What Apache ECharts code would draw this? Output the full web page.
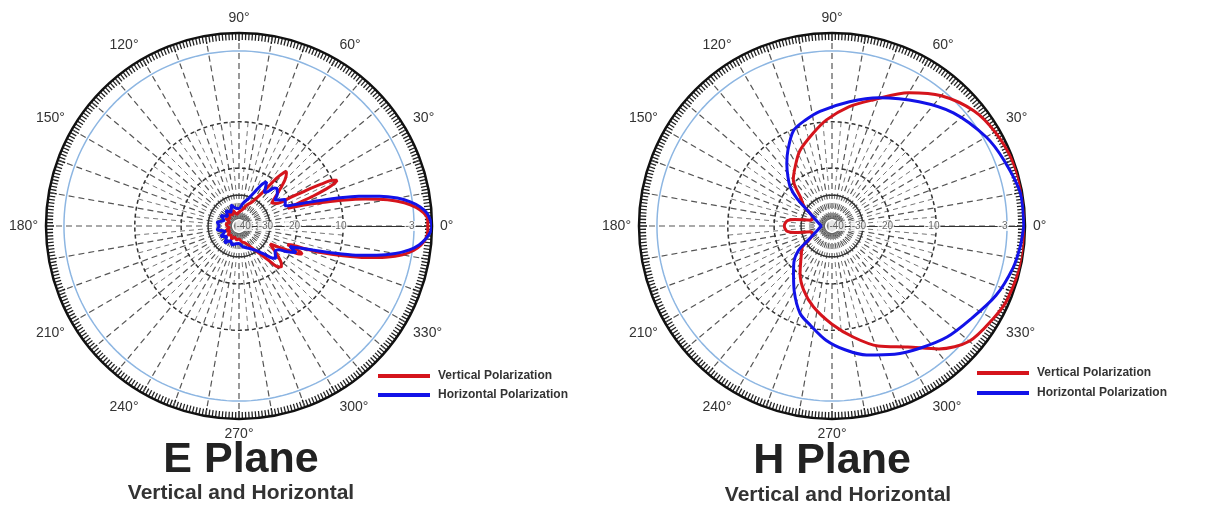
<!DOCTYPE html>
<html><head><meta charset="utf-8">
<script src="https://cdn.jsdelivr.net/npm/echarts@6/dist/echarts.min.js"></script>
<style>html,body{margin:0;padding:0;background:#fff}#c{width:1207px;height:506px}</style>
</head><body><div id="c"></div>
<script>
// ---- data (dB relative to peak, angle in degrees) ----
const radialLevels = [-40, -30, -20, -10, -3];
const radialLabels = ['-40', '-30', '-20', '-10', '-3'];
const seriesNames = ['Vertical Polarization', 'Horizontal Polarization'];
const chartTitles = ['E Plane', 'H Plane'];
const chartSubtitles = ['Vertical and Horizontal', 'Vertical and Horizontal'];

const eVertical = [[0,-0.7],[2,-0.7],[4,-1.3],[6,-2.5],[8,-3.8],[10,-5.4],[12,-7.5],[14,-9.8],[16,-14.4],[18,-17.8],[19,-20.0],[20,-22.2],[21,-19.1],[22,-15.2],[23,-12.0],[24,-10.0],[25,-9.6],[26,-10.0],[27,-12.6],[28,-16.3],[29,-20.0],[31,-25.2],[35,-26.6],[40,-22.9],[45,-18.5],[48,-17.2],[49,-17.0],[50,-17.4],[52,-19.5],[54,-24.8],[57,-28.6],[62,-31.8],[70,-34.0],[80,-36.7],[90,-37.6],[100,-38.5],[110,-36.7],[120,-38.1],[130,-36.3],[140,-38.5],[150,-37.2],[160,-39.4],[170,-38.1],[180,-38.5],[190,-39.4],[200,-37.6],[210,-39.0],[220,-37.6],[230,-38.5],[240,-37.2],[250,-38.5],[260,-37.6],[270,-38.1],[280,-36.7],[290,-35.8],[300,-32.7],[307,-28.6],[311,-24.4],[314,-20.3],[316,-19.8],[318,-20.3],[322,-22.9],[327,-26.6],[330,-28.1],[332,-24.8],[334,-20.0],[335,-18.2],[336,-17.6],[337,-18.0],[338,-19.5],[339,-22.2],[340,-21.1],[341,-17.4],[342,-13.9],[344,-9.6],[346,-7.4],[348,-5.5],[350,-3.9],[352,-2.8],[354,-1.7],[356,-1.0],[358,-0.7]];

const eHorizontal = [[0,0],[2,-0.3],[4,-0.8],[6,-1.8],[8,-3.2],[10,-4.4],[12,-6.1],[14,-8.1],[16,-10.7],[18,-15.0],[20,-18.5],[22,-21.1],[24,-22.9],[27,-22.2],[30,-21.8],[33,-23.7],[36,-25.1],[40,-22.9],[44,-21.8],[47,-22.2],[50,-24.8],[53,-25.9],[56,-23.7],[58,-22.2],[61,-23.7],[65,-27.4],[70,-30.4],[80,-33.5],[90,-36.0],[100,-35.8],[110,-34.0],[120,-36.7],[130,-34.9],[140,-37.2],[150,-34.5],[160,-36.7],[170,-34.0],[180,-34.9],[190,-34.0],[200,-37.2],[210,-34.5],[220,-36.7],[230,-34.0],[240,-36.3],[250,-34.9],[260,-35.8],[270,-36.0],[280,-34.5],[295,-32.7],[305,-30.4],[312,-27.4],[316,-24.4],[319,-23.3],[322,-24.4],[325,-25.1],[329,-24.4],[332,-21.1],[335,-18.9],[338,-21.1],[340,-18.6],[342,-15.7],[344,-11.3],[346,-8.4],[348,-6.4],[350,-4.6],[352,-3.3],[354,-2.0],[356,-1.0],[358,-0.3]];

const hVertical = [[0,0],[10,0],[20,-0.2],[30,-0.8],[39,-1.7],[50,-3.5],[60,-5.1],[72,-7.2],[82,-8.4],[93,-9.8],[102,-12.2],[113,-14.8],[121,-17.2],[130,-19.5],[138,-25.9],[145,-28.9],[151,-33.1],[158,-34.5],[165,-34.0],[170,-27.4],[173,-24.8],[177,-24.0],[180,-23.8],[183,-24.0],[187,-24.8],[190,-27.4],[195,-34.0],[202,-34.5],[209,-33.1],[215,-28.1],[223,-25.9],[236,-20.3],[246,-17.4],[257,-14.6],[270,-11.3],[281,-9.1],[291,-7.6],[302,-6.2],[311,-4.2],[320,-2.3],[330,-1.2],[337,-0.5],[350,0]];

const hHorizontal = [[0,-0.2],[10,-0.3],[21,-1.5],[30,-2.5],[43,-3.9],[55,-5.3],[70,-6.8],[82,-7.9],[96,-8.9],[104,-9.5],[112,-10.3],[120,-13.5],[126,-15.9],[132,-18.3],[137,-20.3],[142,-25.1],[147,-30.4],[160,-36.3],[170,-38.1],[180,-39.0],[190,-38.1],[200,-36.3],[212,-30.4],[216,-26.1],[223,-22.2],[231,-19.3],[240,-16.2],[250,-12.4],[258,-10.5],[267,-9.0],[276,-8.0],[285,-7.1],[296,-6.2],[306,-5.4],[316,-4.5],[326,-3.8],[337,-2.5],[347,-1.2],[354,-0.6]];

// ---- display scale of the radial (dB) axis: dB -> fraction of outer radius ----
const dbScale = [[0,1],[-3,0.907],[-10,0.54],[-20,0.30],[-30,0.16],[-40,0.045],[-50,0]];
function dbToR(db) {
  if (db >= dbScale[0][0]) return dbScale[0][1];
  for (let i = 1; i < dbScale.length; i++) {
    const [d1, r1] = dbScale[i - 1], [d2, r2] = dbScale[i];
    if (db >= d2) return r1 + (r2 - r1) * (db - d1) / (d2 - d1);
  }
  return 0;
}
function toPolar(arr) {
  const pts = arr.map(([a, db]) => [dbToR(db), a]);
  pts.push([dbToR(arr[0][1]), 360]);
  return pts;
}

const FONT = '"Liberation Sans", Arial, sans-serif';
const R = 193;
const centers = [[239, 226], [832, 226]];
const RED = '#d5141c', BLUE = '#1212e8';
const levelStyle = {
  '-3':  { color: '#8db6e2', width: 1.5, type: 'solid' },
  '-10': { color: '#333', width: 1.5, type: [4, 3] },
  '-20': { color: '#333', width: 1.5, type: [4, 3] },
  '-30': { color: '#333', width: 1.5, type: 'solid' },
  '-40': { color: '#777', width: 1, type: 'solid' }
};

const polar = [], angleAxis = [], radiusAxis = [], series = [], legend = [], graphic = [];
const curves = [[eVertical, eHorizontal], [hVertical, hHorizontal]];
const legendPos = [[378, 370, 7], [977, 367, 8]];
const titlePos = [[241, 460, 241, 493], [832, 461, 838, 495]];

centers.forEach((c, k) => {
  const mainIdx = polar.length;
  polar.push({ center: c, radius: R });
  polar.push({ center: c, radius: R * dbToR(-10) });
  angleAxis.push({
    polarIndex: mainIdx, type: 'value', min: 0, max: 360, interval: 10,
    startAngle: 0, clockwise: false,
    axisLine: { lineStyle: { color: '#111', width: 2.5 } },
    axisTick: { show: true, inside: true, length: 8, lineStyle: { color: '#111', width: 1.4 } },
    minorTick: { show: true, splitNumber: 10, length: 7, lineStyle: { color: '#222', width: 1.3 } },
    axisLabel: { margin: 8, color: '#333', fontSize: 14, fontFamily: FONT,
      formatter: v => (v % 30 === 0 && v < 360) ? v + '°' : '' },
    splitLine: { show: true, lineStyle: { color: '#555', width: 1.2, type: [6, 4] } }
  });
  angleAxis.push({
    polarIndex: mainIdx + 1, type: 'value', min: 5, max: 365, interval: 10,
    startAngle: 5, clockwise: false,
    axisLine: { show: false }, axisTick: { show: false }, axisLabel: { show: false },
    splitLine: { show: true, lineStyle: { color: '#777', width: 1, type: [5, 4] } }
  });
  radiusAxis.push({
    polarIndex: mainIdx, type: 'value', min: 0, max: 1,
    axisLine: { show: true, lineStyle: { color: '#333', width: 1.2 } },
    axisTick: { show: false }, axisLabel: { show: false }, splitLine: { show: false }
  });
  radiusAxis.push({ polarIndex: mainIdx + 1, type: 'value', min: 0, max: 1, show: false,
    axisLine: { show: false }, axisTick: { show: false }, axisLabel: { show: false }, splitLine: { show: false } });

  // grid circles at the dB levels
  radialLevels.forEach(lv => {
    const pts = [];
    for (let a = 0; a <= 360; a += 2) pts.push([dbToR(lv), a]);
    series.push({ type: 'line', coordinateSystem: 'polar', polarIndex: mainIdx, name: 'grid' + lv,
      data: pts, symbol: 'none', silent: true, z: 1, lineStyle: levelStyle[String(lv)], animation: false });
  });
  // level labels along 0°
  series.push({ type: 'scatter', coordinateSystem: 'polar', polarIndex: mainIdx, name: 'levels',
    data: radialLevels.map(lv => [dbToR(lv), 0]), symbolSize: 0, silent: true, z: 3, animation: false,
    label: { show: true, position: 'inside', offset: [-4, 0], fontSize: 10, color: '#444', fontFamily: FONT,
      backgroundColor: '#fff', padding: [0, 1], formatter: p => radialLabels[p.dataIndex] } });
  // patterns
  [RED, BLUE].forEach((col, j) => {
    series.push({ type: 'line', coordinateSystem: 'polar', polarIndex: mainIdx, name: seriesNames[j],
      data: toPolar(curves[k][j]), symbol: 'none', smooth: 0.3, z: 5, animation: false,
      itemStyle: { color: col }, lineStyle: { color: col, width: 3 } });
  });
  legend.push({ data: seriesNames, orient: 'vertical', left: legendPos[k][0], top: legendPos[k][1],
    itemWidth: 52, itemHeight: 4, itemGap: legendPos[k][2], icon: 'rect', selectedMode: false, padding: 0,
    textStyle: { fontSize: 12, fontWeight: 'bold', color: '#333', fontFamily: FONT, padding: [0, 0, 0, 3] } });
  graphic.push({ type: 'text', x: titlePos[k][0], y: titlePos[k][1],
    style: { text: chartTitles[k], font: 'bold 43px ' + FONT, fill: '#222', align: 'center', verticalAlign: 'middle' } });
  graphic.push({ type: 'text', x: titlePos[k][2], y: titlePos[k][3],
    style: { text: chartSubtitles[k], font: 'bold 21px ' + FONT, fill: '#333', align: 'center', verticalAlign: 'middle' } });
});

const chart = echarts.init(document.getElementById('c'), null, { renderer: 'canvas' });
chart.setOption({ animation: false, backgroundColor: '#fff', polar, angleAxis, radiusAxis, series, legend, graphic });
</script></body></html>
